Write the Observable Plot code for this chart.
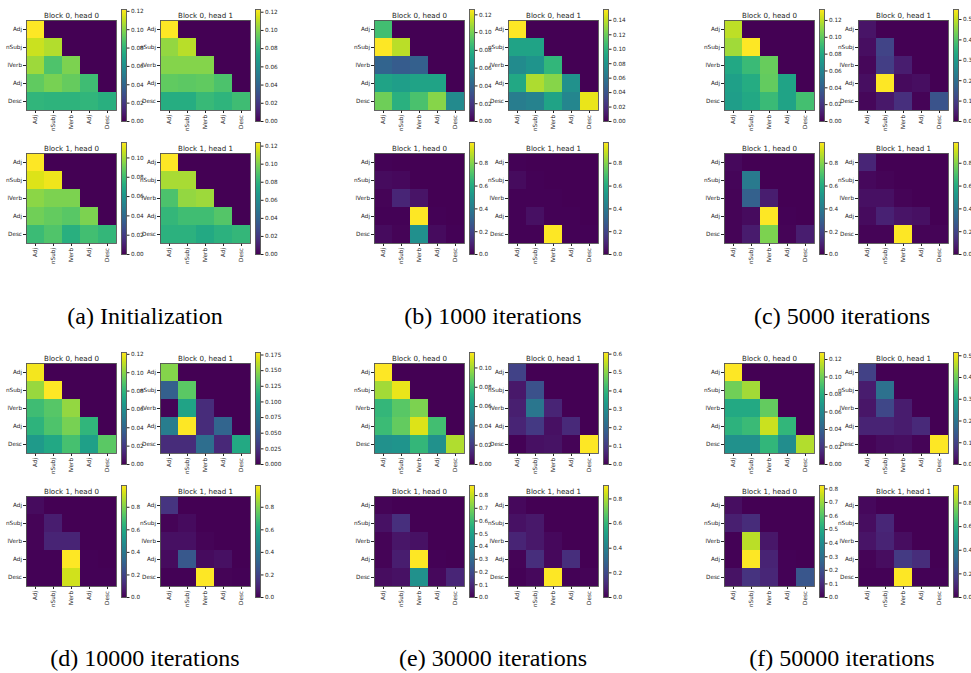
<!DOCTYPE html>
<html><head><meta charset="utf-8">
<script src="https://cdn.jsdelivr.net/npm/d3@7"></script>
<script src="https://cdn.jsdelivr.net/npm/@observablehq/plot@0.6"></script>
<style>
body{margin:0;background:#fff;}
#chart{position:relative;width:971px;height:673px;overflow:hidden;background:#fff;}
.abs{position:absolute;}
.abs svg{max-width:none !important;}
.cap{position:absolute;font-family:"Liberation Serif","Tinos","Times New Roman",Times,serif;font-size:24px;line-height:24px;color:#000;white-space:nowrap;transform:translateX(-50%);}
</style></head><body><div id="chart"></div>
<script>
// token labels on both axes
const tokens = ["Adj","nSubj","lVerb","Adj","Desc"];
const captions = ["(a) Initialization","(b) 1000 iterations","(c) 5000 iterations","(d) 10000 iterations","(e) 30000 iterations","(f) 50000 iterations"];
const headTitles = [["Block 0, head 0","Block 0, head 1"],["Block 1, head 0","Block 1, head 1"]];

// colorbar tick labels
const t012 = ["0.00","0.02","0.04","0.06","0.08","0.10","0.12"];
const t010 = ["0.00","0.02","0.04","0.06","0.08","0.10"];
const t014 = ["0.00","0.02","0.04","0.06","0.08","0.10","0.12","0.14"];
const t0175 = ["0.000","0.025","0.050","0.075","0.100","0.125","0.150","0.175"];
const t05 = ["0.0","0.1","0.2","0.3","0.4","0.5"];
const t06 = ["0.0","0.1","0.2","0.3","0.4","0.5","0.6"];
const t08 = ["0.0","0.2","0.4","0.6","0.8"];
const t08f = ["0.0","0.1","0.2","0.3","0.4","0.5","0.6","0.7","0.8"];

// lower-triangular attention values (row = query, col = key)
const a_b0h0 = [[0.122],[0.112,0.108],[0.104,0.088,0.098],[0.092,0.097,0.093,0.084],[0.080,0.079,0.079,0.080,0.077]];
const a_b0h1 = [[0.123],[0.103,0.110],[0.100,0.100,0.100],[0.093,0.092,0.093,0.088],[0.076,0.076,0.083,0.080,0.085]];
const a_b1h0 = [[0.116],[0.110,0.113],[0.096,0.093,0.093],[0.091,0.088,0.086,0.093],[0.079,0.084,0.073,0.081,0.077]];
const a_b1h1 = [[0.124],[0.108,0.108],[0.089,0.104,0.106],[0.082,0.086,0.086,0.091],[0.079,0.079,0.075,0.079,0.082]];

const b_b0h0 = [[0.088],[0.126,0.113],[0.040,0.036,0.038],[0.073,0.070,0.073,0.073],[0.098,0.080,0.090,0.103,0.060]];
const b_b0h1 = [[0.155],[0.090,0.090],[0.074,0.080,0.102],[0.093,0.136,0.127,0.078],[0.065,0.068,0.090,0.071,0.150]];
const b_b1h0 = [[0.005],[0.03,0.02],[0.01,0.10,0.05],[0.005,0.005,0.982,0.005],[0.03,0.01,0.49,0.03,0.005]];
const b_b1h1 = [[0.005],[0.03,0.005],[0.005,0.005,0.005],[0.005,0.04,0.005,0.005],[0.005,0.005,0.982,0.005,0.005]];

const c_b0h0 = [[0.120],[0.114,0.133],[0.080,0.090,0.102],[0.075,0.082,0.101,0.077],[0.074,0.080,0.090,0.077,0.093]];
const c_b0h1 = [[0.03],[0.02,0.11],[0.01,0.10,0.045],[0.02,0.549,0.015,0.02],[0.01,0.035,0.075,0.005,0.14]];
const c_b1h0 = [[0.02],[0.015,0.40],[0.01,0.30,0.08],[0.01,0.03,0.982,0.005],[0.01,0.07,0.79,0.01,0.08]];
const c_b1h1 = [[0.10],[0.02,0.01],[0.04,0.04,0.01],[0.03,0.09,0.05,0.04],[0.01,0.01,0.982,0.01,0.01]];

const d_b0h0 = [[0.120],[0.103,0.122],[0.084,0.090,0.102],[0.079,0.088,0.097,0.080],[0.066,0.073,0.086,0.069,0.091]];
const d_b0h1 = [[0.146],[0.054,0.133],[0.002,0.104,0.022],[0.075,0.179,0.022,0.058],[0.022,0.022,0.064,0.020,0.108]];
const d_b1h0 = [[0.03],[0.01,0.08],[0.01,0.10,0.10],[0.005,0.005,0.993,0.005],[0.005,0.005,0.92,0.005,0.005]];
const d_b1h1 = [[0.15],[0.01,0.03],[0.04,0.04,0.01],[0.03,0.27,0.03,0.04],[0.005,0.005,0.993,0.01,0.005]];

const e_b0h0 = [[0.116],[0.100,0.112],[0.077,0.086,0.093],[0.079,0.088,0.110,0.081],[0.058,0.060,0.077,0.058,0.102]];
const e_b0h1 = [[0.12],[0.04,0.15],[0.05,0.24,0.06],[0.06,0.10,0.025,0.07],[0.003,0.025,0.03,0.006,0.609]];
const e_b1h0 = [[0.01],[0.04,0.12],[0.01,0.05,0.04],[0.01,0.07,0.879,0.005],[0.03,0.04,0.44,0.02,0.09]];
const e_b1h1 = [[0.02],[0.04,0.06],[0.09,0.06,0.02],[0.01,0.12,0.02,0.12],[0.005,0.02,0.909,0.005,0.01]];

const f_b0h0 = [[0.128],[0.100,0.110],[0.077,0.077,0.097],[0.082,0.087,0.118,0.084],[0.064,0.064,0.084,0.062,0.113]];
const f_b0h1 = [[0.10],[0.04,0.19],[0.03,0.11,0.04],[0.05,0.05,0.04,0.06],[0.005,0.015,0.02,0.005,0.515]];
const f_b1h0 = [[0.03],[0.07,0.10],[0.005,0.74,0.05],[0.005,0.825,0.08,0.005],[0.04,0.12,0.09,0.005,0.22]];
const f_b1h1 = [[0.02],[0.03,0.10],[0.05,0.09,0.03],[0.01,0.03,0.16,0.12],[0.005,0.005,0.948,0.005,0.005]];

const panels = [
  {mats:[[a_b0h0,a_b0h1],[a_b1h0,a_b1h1]], ticks:[[t012,t012],[t010,t012]]},
  {mats:[[b_b0h0,b_b0h1],[b_b1h0,b_b1h1]], ticks:[[t012,t014],[t08,t08]]},
  {mats:[[c_b0h0,c_b0h1],[c_b1h0,c_b1h1]], ticks:[[t012,t05],[t08,t08]]},
  {mats:[[d_b0h0,d_b0h1],[d_b1h0,d_b1h1]], ticks:[[t012,t0175],[t08,t08]]},
  {mats:[[e_b0h0,e_b0h1],[e_b1h0,e_b1h1]], ticks:[[t010,t06],[t08f,t08]]},
  {mats:[[f_b0h0,f_b0h1],[f_b1h0,f_b1h1]], ticks:[[t012,t05],[t08f,t08]]}
];

// ---- layout ----
const panelX = [0, 348, 698], panelY = [0, 343];
const hmX = [26, 160], hmY = [20, 153];
const capX = [145, 493, 842], capY = [304, 646];
const HS = 90, ML = 30, MT = 22, MR = 4, MB = 34;
const CBW = 5, CBH = 112, cML = 2, cMR = 30, cMT = 4, cMB = 4;
const FONT = "DejaVu Sans";
const chart = document.getElementById("chart");

function place(node, left, top, w, h) {
  const d = document.createElement("div");
  d.className = "abs";
  d.style.left = left + "px"; d.style.top = top + "px";
  d.style.width = w + "px"; d.style.height = h + "px";
  d.appendChild(node);
  chart.appendChild(d);
}

function heatmapPlot(mat, title) {
  const cells = [];
  for (let i = 0; i < 5; i++) for (let j = 0; j < 5; j++)
    cells.push({r: i, c: j, v: j < mat[i].length ? mat[i][j] : 0});
  const vmax = d3.max(cells, d => d.v);
  const idx = d3.range(tokens.length);
  return {vmax, node: Plot.plot({
    width: ML + HS + MR, height: MT + HS + MB,
    marginLeft: ML, marginTop: MT, marginRight: MR, marginBottom: MB,
    style: {fontFamily: FONT, fontSize: "5.7px", color: "#222", background: "transparent", overflow: "visible", maxWidth: "none"},
    x: {domain: idx, padding: 0, tickFormat: i => tokens[i], tickRotate: -90, tickSize: 3, tickPadding: 1.5, label: null},
    y: {domain: idx, padding: 0, tickFormat: i => tokens[i], tickSize: 3, tickPadding: 1.5, label: null},
    color: {type: "linear", scheme: "viridis", domain: [0, vmax]},
    marks: [
      Plot.cell(cells, {x: "c", y: "r", fill: "v", inset: 0, shapeRendering: "crispEdges"}),
      Plot.frame({stroke: "#555", strokeWidth: 0.9}),
      Plot.text([title], {text: d => d, frameAnchor: "top", lineAnchor: "bottom", dy: -3, fontSize: 7.1, fill: "#222"})
    ]
  })};
}

function colorbarPlot(vmax, ticks) {
  const labels = new Map(ticks.map(t => [+t, t]));
  return Plot.plot({
    width: cML + CBW + cMR, height: cMT + CBH + cMB,
    marginLeft: cML, marginRight: cMR, marginTop: cMT, marginBottom: cMB,
    style: {fontFamily: FONT, fontSize: "5.7px", color: "#222", background: "transparent", overflow: "visible", maxWidth: "none"},
    x: {domain: [0, 1], axis: null},
    y: {domain: [0, vmax], axis: "right", ticks: ticks.map(Number), tickFormat: d => labels.get(d), tickSize: 2.5, tickPadding: 2, label: null},
    color: {type: "linear", scheme: "viridis", domain: [0, vmax]},
    marks: [
      Plot.raster({x1: 0, x2: 1, y1: 0, y2: vmax, width: 2, height: 256, fill: (x, y) => y}),
      Plot.frame({stroke: "#555", strokeWidth: 0.9})
    ]
  });
}

panels.forEach((p, k) => {
  const px = panelX[k % 3], py = panelY[Math.floor(k / 3)];
  for (let b = 0; b < 2; b++) for (let h = 0; h < 2; h++) {
    const hx = px + hmX[h], hy = py + hmY[b];
    const hm = heatmapPlot(p.mats[b][h], headTitles[b][h]);
    place(hm.node, hx - ML, hy - MT, ML + HS + MR, MT + HS + MB);
    place(colorbarPlot(hm.vmax, p.ticks[b][h]), hx + HS + 5 - cML, hy - 11 - cMT, cML + CBW + cMR, cMT + CBH + cMB);
  }
  const cap = document.createElement("div");
  cap.className = "cap";
  cap.textContent = captions[k];
  cap.style.left = capX[k % 3] + "px";
  cap.style.top = capY[Math.floor(k / 3)] + "px";
  chart.appendChild(cap);
});
</script></body></html>
